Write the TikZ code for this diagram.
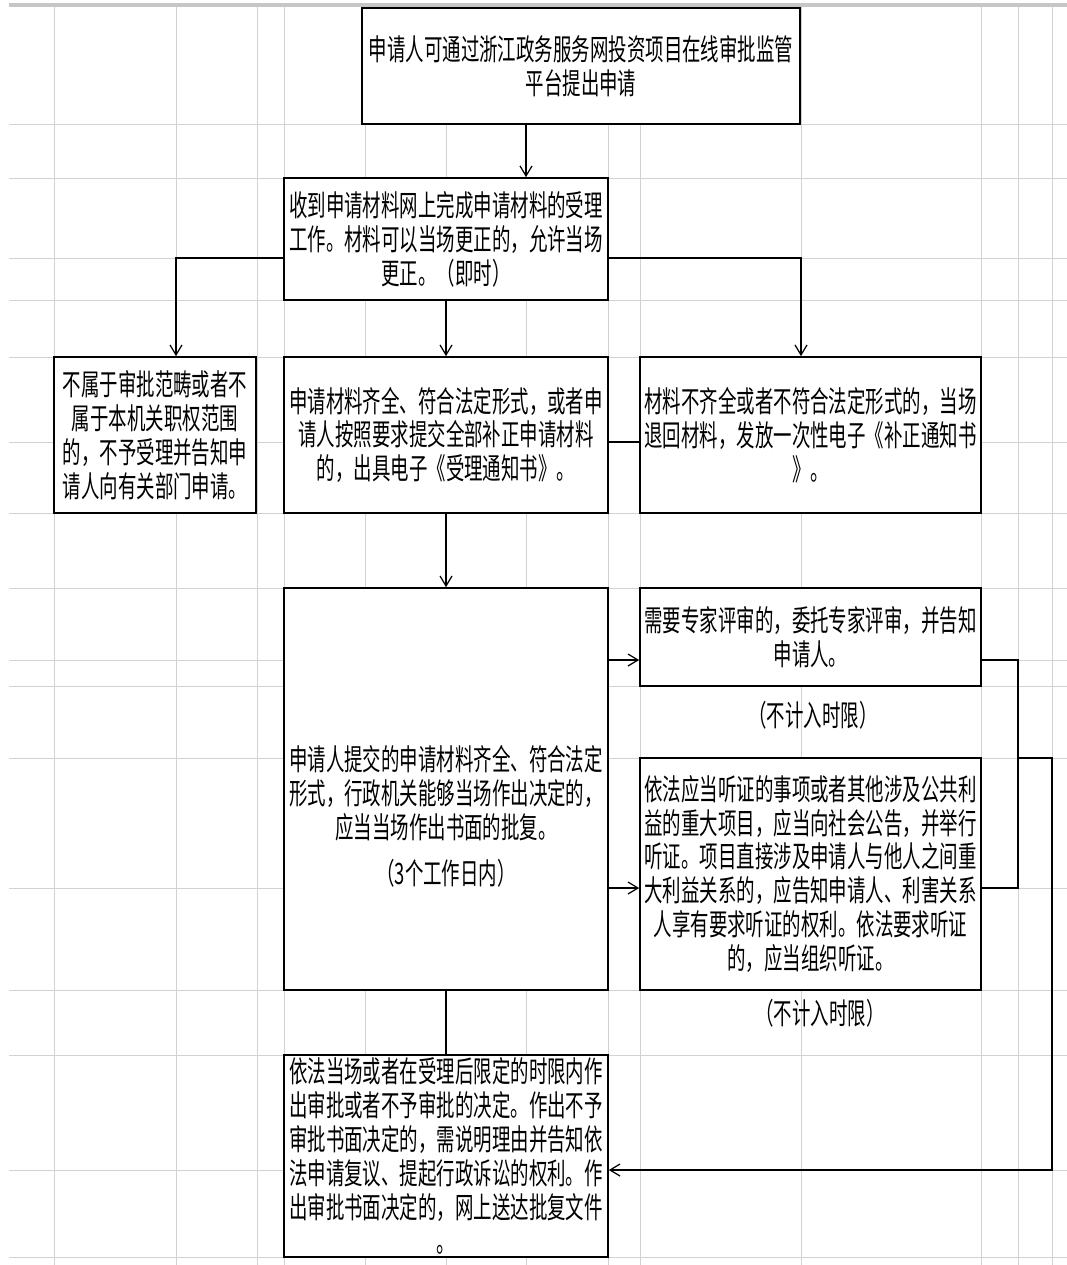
\documentclass[tikz,border=0pt]{standalone}
\usepackage{fontspec}
\usetikzlibrary{arrows.meta}
\newfontfamily\cjkfont{Noto Sans CJK SC}[FakeStretch=0.625]
\definecolor{gridgray}{HTML}{D2D2D2}
\begin{document}
\begin{tikzpicture}[x=0.02cm, y=-0.02cm,
  box/.style={draw, line width=1pt, inner sep=1pt, align=center, font=\cjkfont\fontsize{16.8pt}{19.3pt}\selectfont},
  lbl/.style={align=center, font=\cjkfont\fontsize{16.8pt}{19.3pt}\selectfont},
  conn/.style={line width=0.7pt},
  arr/.style={conn, -{Straight Barb[length=2mm,width=2.4mm]}},
  gridln/.style={draw=gridgray, line width=0.5pt}]
\useasboundingbox (0,0) rectangle (1067,1265);
\draw[gridln] (54,6) -- (54,1265) (176,6) -- (176,1265) (257,6) -- (257,1265) (284,6) -- (284,1265)
  (365,6) -- (365,1265) (446,6) -- (446,1265) (526,6) -- (526,1265) (608,6) -- (608,1265)
  (640,6) -- (640,1265) (801,6) -- (801,1265) (981,6) -- (981,1265) (1018,6) -- (1018,1265)
  (1052,6) -- (1052,1265);
\draw[gridln] (9,124) -- (1067,124) (9,178) -- (1067,178) (9,258) -- (1067,258) (9,300) -- (1067,300)
  (9,357) -- (1067,357) (9,442) -- (1067,442) (9,513) -- (1067,513) (9,588) -- (1067,588)
  (9,660) -- (1067,660) (9,686) -- (1067,686) (9,758) -- (1067,758) (9,888) -- (1067,888)
  (9,990) -- (1067,990) (9,1055) -- (1067,1055) (9,1170) -- (1067,1170) (9,1257) -- (1067,1257);
\draw[draw=gray!45, line width=2.5pt] (9,5) -- (1067,5);

\node[box, fill=white, minimum width=8.76cm, minimum height=2.32cm] (apply) at (581,66) {申请人可通过浙江政务服务网投资项目在线审批监管\\平台提出申请};
\node[box, fill=white, minimum width=6.48cm, minimum height=2.44cm] (accept) at (446,239) {收到申请材料网上完成申请材料的受理\\工作。材料可以当场更正的，允许当场\\更正。（即时）};
\node[box, fill=white, minimum width=4.04cm, minimum height=3.12cm] (reject) at (155,435) {不属于审批范畴或者不\\属于本机关职权范围\\的，不予受理并告知申\\请人向有关部门申请。};
\node[box, fill=white, minimum width=6.48cm, minimum height=3.12cm] (notice) at (446,435) {申请材料齐全、符合法定形式，或者申\\请人按照要求提交全部补正申请材料\\的，出具电子《受理通知书》。};
\node[box, fill=white, minimum width=6.82cm, minimum height=3.12cm] (correct) at (810.5,435) {材料不齐全或者不符合法定形式的，当场\\退回材料，发放一次性电子《补正通知书\\》。};
\node[box, fill=white, minimum width=6.48cm, minimum height=8.04cm,
  label={[lbl, yshift=-0.55cm]center:{申请人提交的申请材料齐全、符合法定\\形式，行政机关能够当场作出决定的，\\应当当场作出书面的批复。\\[0.24cm]（3个工作日内）}}] (decide) at (446,789) {};
\node[box, fill=white, minimum width=6.82cm, minimum height=1.96cm] (expert) at (810.5,637) {需要专家评审的，委托专家评审，并告知\\申请人。};
\node[lbl] (expertlbl) at (813,715) {（不计入时限）};
\node[box, fill=white, minimum width=6.82cm, minimum height=4.64cm] (hearing) at (810.5,874) {依法应当听证的事项或者其他涉及公共利\\益的重大项目，应当向社会公告，并举行\\听证。项目直接涉及申请人与他人之间重\\大利益关系的，应告知申请人、利害关系\\人享有要求听证的权利。依法要求听证\\的，应当组织听证。};
\node[lbl] (hearinglbl) at (820,1013) {（不计入时限）};
\node[box, fill=white, minimum width=6.48cm, minimum height=4.04cm] (result) at (446,1156) {依法当场或者在受理后限定的时限内作\\出审批或者不予审批的决定。作出不予\\审批书面决定的，需说明理由并告知依\\法申请复议、提起行政诉讼的权利。作\\出审批书面决定的，网上送达批复文件\\。};

\draw[arr] (apply.south -| 526,0) -- (accept.north -| 526,0);
\draw[arr] (accept.west |- 0,258) -| (176,0 |- reject.north);
\draw[arr] (accept.south) -- (notice.north);
\draw[arr] (accept.east |- 0,258) -| (801,0 |- correct.north);
\draw[conn] (notice.east |- 0,442) -- (correct.west |- 0,442);
\draw[arr] (notice.south) -- (decide.north);
\draw[arr] (decide.east |- 0,660) -- (expert.west |- 0,660);
\draw[arr] (decide.east |- 0,888) -- (hearing.west |- 0,888);
\draw[conn] (expert.east |- 0,660) -- (1018,660) -- (1018,888) -- (hearing.east |- 0,888);
\draw[arr] (1018,758) -- (1052,758) -- (1052,1170) -- (result.east |- 0,1170);
\draw[conn] (decide.south) -- (result.north);
\end{tikzpicture}
\end{document}
